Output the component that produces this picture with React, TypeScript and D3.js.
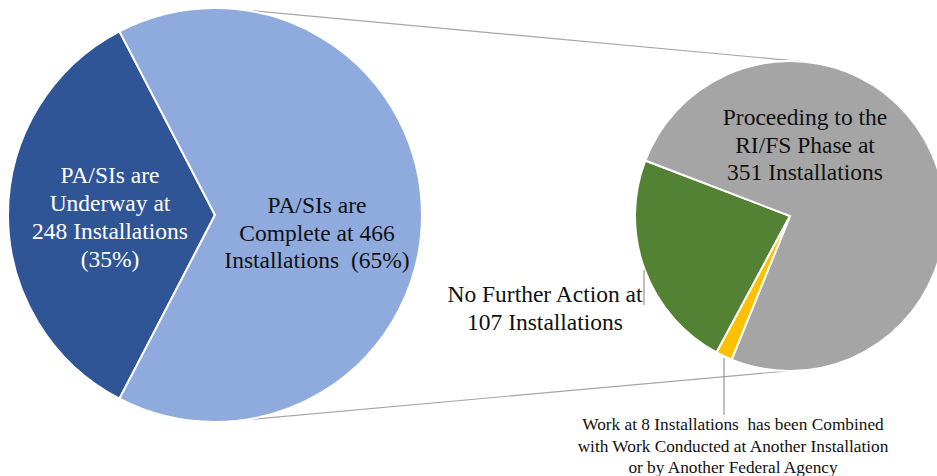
import React from "react";
import * as d3 from "d3";

// left pie: status of PA/SIs
const leftCategories = ["Underway", "Complete"];
const leftValues = [248, 466];
const leftColors = ["#2F5597", "#8FAADC"];

// right pie: breakdown of the completed ones
const rightCategories = ["No Further Action", "Proceeding to RI/FS", "Combined"];
const rightValues = [107, 351, 8];
const rightColors = ["#548235", "#A5A5A5", "#FFC000"];

const leftLabel = ["PA/SIs are", "Underway at", "248 Installations", "(35%)"];
const completeLabel = ["PA/SIs are", "Complete at 466", "Installations  (65%)"];
const rifsLabel = ["Proceeding to the", "RI/FS Phase at", "351 Installations"];
const nfaLabel = ["No Further Action at", "107 Installations"];
const combinedLabel = [
  "Work at 8 Installations  has been Combined",
  "with Work Conducted at Another Installation",
  "or by Another Federal Agency",
];

const W = 937;
const H = 476;
const deg = Math.PI / 180;

const L = { cx: 215, cy: 215, r: 207 };
const R = { cx: 790, cy: 216, r: 155 };

const onCircle = (c: { cx: number; cy: number; r: number }, a: number) => [
  c.cx + c.r * Math.sin(a * deg),
  c.cy - c.r * Math.cos(a * deg),
];

export default function App() {
  // dark slice centred on the left side (270deg)
  const leftSpan = (leftValues[0] / d3.sum(leftValues)) * 360;
  const leftStart = (270 - leftSpan / 2) * deg;
  const leftArcs = d3
    .pie<number>()
    .sort(null)
    .startAngle(leftStart)
    .endAngle(leftStart + 2 * Math.PI)(leftValues);

  const rightStart = 208.3 * deg;
  const rightArcs = d3
    .pie<number>()
    .sort(null)
    .startAngle(rightStart)
    .endAngle(rightStart + 2 * Math.PI)(rightValues);

  const arcL = d3.arc<d3.PieArcDatum<number>>().innerRadius(0).outerRadius(L.r);
  const arcR = d3.arc<d3.PieArcDatum<number>>().innerRadius(0).outerRadius(R.r);

  const t1 = onCircle(L, 8);
  const t2 = onCircle(R, 4);
  const b1 = onCircle(L, 172);
  const b2 = onCircle(R, 181);

  const block = (lines: string[], x: number, y0: number, dy: number, size: number, fill: string) => (
    <text x={x} textAnchor="middle" fontFamily="Liberation Serif" fontSize={size} fill={fill} style={{ whiteSpace: "pre" }}>
      {lines.map((s, i) => (
        <tspan key={i} x={x} y={y0 + i * dy}>
          {s}
        </tspan>
      ))}
    </text>
  );

  return (
    <svg
      width={W}
      height={H}
      style={{ position: "absolute", left: 0, top: 0, background: "#fff" }}
    >
      {/* connector lines */}
      <line x1={t1[0]} y1={t1[1]} x2={t2[0]} y2={t2[1]} stroke="#A6A6A6" strokeWidth={1.2} />
      <line x1={b1[0]} y1={b1[1]} x2={b2[0]} y2={b2[1]} stroke="#A6A6A6" strokeWidth={1.2} />

      <g transform={`translate(${L.cx},${L.cy})`}>
        {leftArcs.map((d, i) => (
          <path key={leftCategories[i]} d={arcL(d) || ""} fill={leftColors[i]} stroke="#fff" strokeWidth={2} />
        ))}
      </g>
      <g transform={`translate(${R.cx},${R.cy})`}>
        {rightArcs.map((d, i) => (
          <path key={rightCategories[i]} d={arcR(d) || ""} fill={rightColors[i]} stroke="#fff" strokeWidth={2} />
        ))}
      </g>

      {/* leader lines */}
      <line x1={644} y1={270} x2={644} y2={305} stroke="#808080" strokeWidth={1} />
      <line x1={724} y1={358} x2={724} y2={415} stroke="#808080" strokeWidth={1} />

      {block(leftLabel, 110, 183, 28, 23.5, "#fff")}
      {block(completeLabel, 317, 213, 27.5, 23.5, "#111")}
      {block(rifsLabel, 805, 125, 27.5, 23.5, "#111")}
      {block(nfaLabel, 545, 302, 28, 23.5, "#111")}
      {block(combinedLabel, 733, 430, 21.5, 17.3, "#111")}
    </svg>
  );
}
